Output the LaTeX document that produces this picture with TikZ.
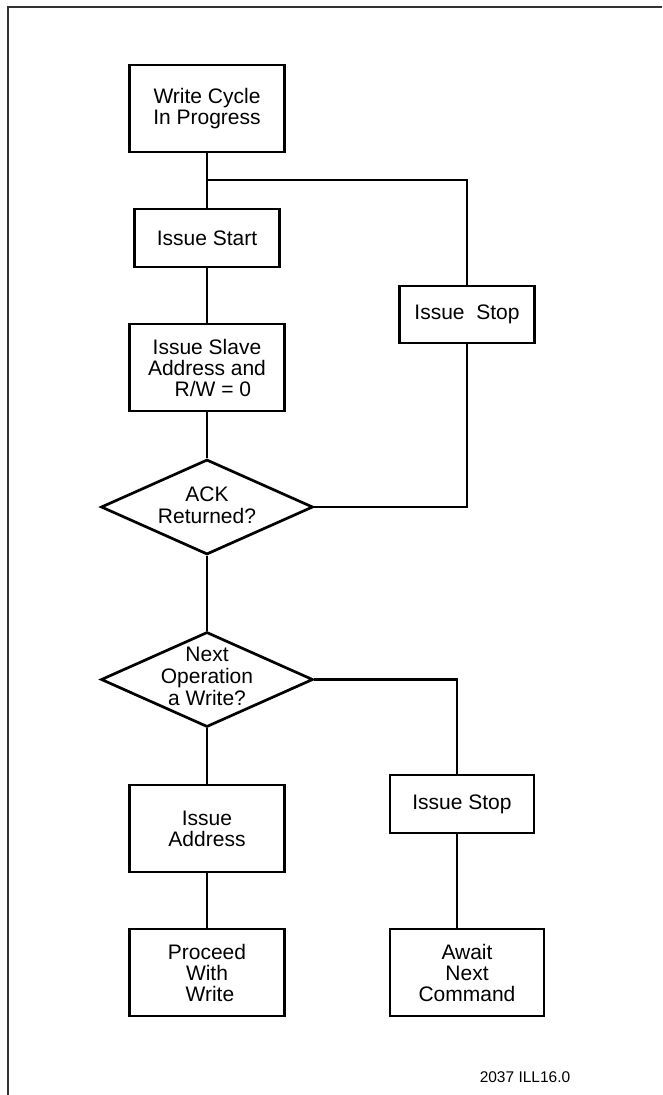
\documentclass[tikz,border=0pt]{standalone}
\usepackage{fontspec}
\setmainfont{Liberation Sans}
\usetikzlibrary{shapes.geometric}
\begin{document}
\begin{tikzpicture}[x=1pt,y=-1pt,
  box/.style={draw=black,line width=2.7pt,rectangle,inner sep=0pt,align=center,
    font=\fontsize{21}{21}\selectfont},
  dia/.style={draw=black,line width=2.7pt,diamond,inner sep=0pt,
    minimum width=212pt,minimum height=95pt},
  dtext/.style={align=center,inner sep=0pt,font=\fontsize{21}{22}\selectfont},
  conn/.style={line width=2.7pt},
  frame/.style={line width=1.4pt,draw=black!80}]
\useasboundingbox (0,0) rectangle (663,1095);
% frame
\coordinate (ftr) at (662,7);
\coordinate (ftl) at (8,7);
\coordinate (fbl) at (8,1095);
\draw[frame] (ftr) -- (ftl) -- (fbl);
% boxes
\node[box,minimum width=155pt,minimum height=87pt] (wc) at (207,108.5) {Write Cycle\\In Progress};
\node[box,minimum width=145pt,minimum height=58pt] (start) at (207,238) {Issue Start};
\node[box,minimum width=135pt,minimum height=57pt] (stop1) at (467,314.5) {Issue\ \ Stop};
\node[box,minimum width=155pt,minimum height=87pt] (slave) at (207,367.5) {Issue Slave\\Address and\\\ \ R/W = 0};
\node[dia] (ack) at (207,507) {};
\node[dtext] (acktext) at (207,505) {ACK\\Returned?};
\node[dia] (next) at (207,679.5) {};
\node[dtext] (nexttext) at (207,676) {Next\\Operation\\a Write?};
\node[box,minimum width=144pt,minimum height=58pt] (stop2) at (462,804) {Issue Stop};
\node[box,minimum width=155pt,minimum height=87pt] (addr) at (207,828.5) {Issue\\Address};
\node[box,minimum width=155pt,minimum height=87pt] (proc) at (207,972.5) {Proceed\\With\\\ Write};
\node[box,minimum width=154pt,minimum height=87pt] (await) at (467,972.5) {Await\\Next\\Command};
\node[inner sep=0pt,font=\fontsize{15.5}{16}\selectfont] (code) at (525,1077) {2037 ILL16.0};
% connectors
\coordinate (j) at (207,180);
\coordinate (c2) at (457,679.5);
\draw[conn] (wc.south) -- (start.north);
\draw[conn] (j) -| (stop1.north);
\draw[conn] (start.south) -- (slave.north);
\draw[conn] (slave.south) -- (ack.north);
\draw[conn] (ack.east) -| (stop1.south);
\draw[conn] (ack.south) -- (next.north);
\draw[conn] (next.east) -- (c2) -- (c2 |- stop2.north);
\draw[conn] (c2 |- stop2.south) -- (c2 |- await.north);
\draw[conn] (next.south) -- (addr.north);
\draw[conn] (addr.south) -- (proc.north);
\end{tikzpicture}
\end{document}
